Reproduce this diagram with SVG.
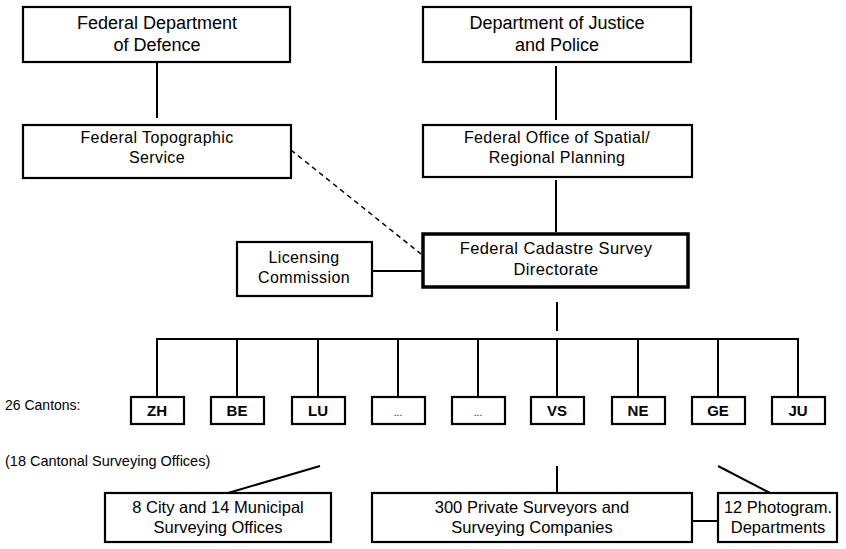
<svg xmlns="http://www.w3.org/2000/svg" width="846" height="549" viewBox="0 0 846 549">
<style>
.box{fill:#fff;stroke:#000;stroke-width:2.2}
.thick{fill:#fff;stroke:#000;stroke-width:3.5}
.ln{fill:none;stroke:#000;stroke-width:2}
.dash{fill:none;stroke:#000;stroke-width:1.5;stroke-dasharray:5 4}
text{font-family:"Liberation Sans",Arial,sans-serif;fill:#000;text-anchor:middle}
.t18{font-size:18px}
.t16{font-size:16px;letter-spacing:0.4px}
.t17{font-size:16.5px;letter-spacing:0.4px}
.tc{font-size:15px;font-weight:bold}
.tb{font-size:16.5px}
.lab{font-size:13px;text-anchor:start}
</style>
<rect width="846" height="549" fill="#fff"/>
<g id="connectors">
<line class="ln" x1="157" y1="62" x2="157" y2="118"/>
<line class="ln" x1="556" y1="66" x2="556" y2="120"/>
<line class="ln" x1="556" y1="180" x2="556" y2="232"/>
<line class="dash" x1="291" y1="150" x2="421" y2="254"/>
<line class="ln" x1="372" y1="271" x2="422" y2="271"/>
<line class="ln" x1="557" y1="302" x2="557" y2="331"/>
<polyline class="ln" points="157,397 157,339 798,339 798,397"/>
<line class="ln" x1="237" y1="339" x2="237" y2="397"/>
<line class="ln" x1="318" y1="339" x2="318" y2="397"/>
<line class="ln" x1="398" y1="339" x2="398" y2="397"/>
<line class="ln" x1="478" y1="339" x2="478" y2="397"/>
<line class="ln" x1="557" y1="339" x2="557" y2="397"/>
<line class="ln" x1="638" y1="339" x2="638" y2="397"/>
<line class="ln" x1="718" y1="339" x2="718" y2="397"/>
<line class="ln" x1="320" y1="466" x2="228" y2="493"/>
<line class="ln" x1="557" y1="466" x2="557" y2="493"/>
<line class="ln" x1="718" y1="466" x2="770" y2="493"/>
<line class="ln" x1="692" y1="521" x2="718" y2="521"/>
</g>
<g id="defence">
<rect class="box" x="23" y="7" width="267" height="55"/>
<text class="t18" x="157" y="29">Federal Department</text>
<text class="t18" x="157" y="51">of Defence</text>
</g>
<g id="justice">
<rect class="box" x="423" y="7" width="268" height="55"/>
<text class="t18" x="557" y="29">Department of Justice</text>
<text class="t18" x="557" y="51">and Police</text>
</g>
<g id="topographic">
<rect class="box" x="23" y="125" width="268" height="53"/>
<text class="t16" x="157" y="143">Federal Topographic</text>
<text class="t16" x="157" y="163">Service</text>
</g>
<g id="spatial">
<rect class="box" x="423" y="125" width="269" height="52"/>
<text class="t16" x="557" y="143">Federal Office of Spatial/</text>
<text class="t16" x="557" y="163">Regional Planning</text>
</g>
<g id="directorate">
<rect class="thick" x="423" y="234" width="265" height="53"/>
<text class="t17" x="556" y="254">Federal Cadastre Survey</text>
<text class="t17" x="556" y="275">Directorate</text>
</g>
<g id="licensing">
<rect class="box" x="237" y="242" width="135" height="54"/>
<text class="t16" x="304" y="263">Licensing</text>
<text class="t16" x="304" y="283">Commission</text>
</g>
<g id="cantons-label">
<text class="lab" x="5" y="410" style="font-size:14px">26 Cantons:</text>
</g>
<g id="cantonal-offices-label">
<text class="lab" x="5" y="466" style="font-size:14.5px">(18 Cantonal Surveying Offices)</text>
</g>
<g id="canton-ZH"><rect class="box" x="131" y="397" width="53" height="27"/><text class="tc" x="157" y="416">ZH</text></g>
<g id="canton-BE"><rect class="box" x="211" y="397" width="53" height="27"/><text class="tc" x="237" y="416">BE</text></g>
<g id="canton-LU"><rect class="box" x="292" y="397" width="53" height="27"/><text class="tc" x="318" y="416">LU</text></g>
<g id="canton-dots1"><rect class="box" x="372" y="397" width="53" height="27"/><text class="tc" x="398" y="416" style="font-size:10px;font-weight:normal">...</text></g>
<g id="canton-dots2"><rect class="box" x="452" y="397" width="53" height="27"/><text class="tc" x="478" y="416" style="font-size:10px;font-weight:normal">...</text></g>
<g id="canton-VS"><rect class="box" x="531" y="397" width="53" height="27"/><text class="tc" x="557" y="416">VS</text></g>
<g id="canton-NE"><rect class="box" x="612" y="397" width="53" height="27"/><text class="tc" x="638" y="416">NE</text></g>
<g id="canton-GE"><rect class="box" x="692" y="397" width="53" height="27"/><text class="tc" x="718" y="416">GE</text></g>
<g id="canton-JU"><rect class="box" x="772" y="397" width="53" height="27"/><text class="tc" x="798" y="416">JU</text></g>
<g id="city-offices">
<rect class="box" x="105" y="493" width="226" height="49"/>
<text class="tb" x="218" y="513">8 City and 14 Municipal</text>
<text class="tb" x="218" y="533">Surveying Offices</text>
</g>
<g id="private-surveyors">
<rect class="box" x="372" y="493" width="320" height="49"/>
<text class="tb" x="532" y="513">300  Private Surveyors and</text>
<text class="tb" x="532" y="533">Surveying Companies</text>
</g>
<g id="photogram">
<rect class="box" x="718" y="493" width="119" height="49"/>
<text class="tb" x="778" y="513">12 Photogram.</text>
<text class="tb" x="778" y="533">Departments</text>
</g>
</svg>
